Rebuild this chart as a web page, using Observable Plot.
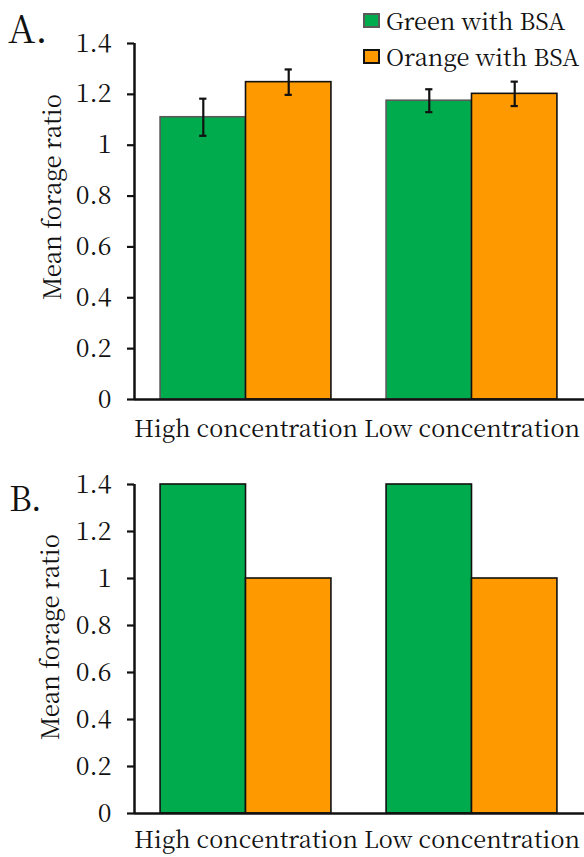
<!DOCTYPE html>
<html>
<head>
<meta charset="utf-8">
<script src="https://cdn.jsdelivr.net/npm/d3@7"></script>
<script src="https://cdn.jsdelivr.net/npm/@observablehq/plot@0.6"></script>
<style>
  html, body { margin: 0; padding: 0; background: #fff; }
  #root { position: relative; width: 584px; height: 857px; overflow: hidden; font-family: "Noto Serif CJK SC", "Liberation Serif", serif; color: #111; }
  .panel { position: absolute; left: 0; }
  .tag { position: absolute; font-size: 38px; line-height: 1; }
  .ylab { position: absolute; font-size: 24px; white-space: nowrap; transform: translate(-50%, -50%) rotate(-90deg); line-height: 1; }
  .legend { position: absolute; left: 363px; top: 2px; font-size: 23.6px; }
  .legend .row { display: flex; align-items: center; height: 36px; }
  .legend .sw { width: 13px; height: 11px; margin-right: 6px; border: 2px solid #000; }
</style>
</head>
<body>
<div id="root"></div>
<script>
// ---- data ----
const concentrations = ["High concentration", "Low concentration"];
const series = ["Green with BSA", "Orange with BSA"];
const colors = ["#00ab4e", "#fe9a00"];
const strokesA = ["#5a5a5a", "#111111"];
const strokesB = ["#111111", "#111111"];

const meanA_green = [1.11, 1.175];
const meanA_orange = [1.248, 1.202];
const errA_green = [0.073, 0.045];
const errA_orange = [0.05, 0.048];

const meanB_green = [1.4, 1.4];
const meanB_orange = [1.0, 1.0];

const yTicks = [0, 0.2, 0.4, 0.6, 0.8, 1, 1.2, 1.4];

// ---- layout (style) ----
const xDomain = [-0.4934, 1.4978];
const half = 0.378;       // half of group width in x units
const cap = 0.016;        // error-bar cap half width in x units
const FONT = "'Noto Serif CJK SC', 'Liberation Serif', serif";

function rows(greens, oranges, gErr, oErr) {
  const out = [];
  concentrations.forEach((c, g) => {
    [greens, oranges].forEach((vals, s) => {
      const x1 = g - half + s * half, x2 = g + s * half;
      const errs = s === 0 ? gErr : oErr;
      out.push({concentration: c, series: series[s], s, value: vals[g],
        err: errs ? errs[g] : null, x1, x2, xc: (x1 + x2) / 2});
    });
  });
  return out;
}

function panel(data, strokes, opts) {
  const marks = [
    Plot.rectY(data, {x1: "x1", x2: "x2", y1: 0, y2: "value",
      fill: d => colors[d.s], stroke: d => strokes[d.s], strokeWidth: 1.6}),
    Plot.axisY({ticks: yTicks, tickSize: 7, tickPadding: 16, tickFormat: d => String(d), strokeWidth: 2.2, label: null, fontSize: 25}),
    Plot.axisX({ticks: [0, 1], tickSize: 0, tickPadding: opts.xPad, tickFormat: i => concentrations[i], label: null, fontSize: 23.5}),
    Plot.ruleX([xDomain[0]], {strokeWidth: 2.5, stroke: "#111"}),
    Plot.ruleY([0], {strokeWidth: 2.5, stroke: "#111"})
  ];
  const withErr = data.filter(d => d.err != null);
  if (withErr.length) {
    marks.push(
      Plot.ruleX(withErr, {x: "xc", y1: d => d.value - d.err, y2: d => d.value + d.err, strokeWidth: 2.2, stroke: "#111"}),
      Plot.ruleY(withErr, {x1: d => d.xc - cap, x2: d => d.xc + cap, y: d => d.value + d.err, strokeWidth: 2.2, stroke: "#111"}),
      Plot.ruleY(withErr, {x1: d => d.xc - cap, x2: d => d.xc + cap, y: d => d.value - d.err, strokeWidth: 2.2, stroke: "#111"})
    );
  }
  return Plot.plot({
    width: 584,
    height: opts.height,
    marginLeft: 134,
    marginRight: 0,
    marginTop: opts.marginTop,
    marginBottom: opts.marginBottom,
    x: {domain: xDomain, axis: null, label: null},
    y: {domain: [0, 1.4], axis: null, label: null},
    style: {fontFamily: FONT, fontSize: "24px", color: "#111", background: "transparent", overflow: "visible"},
    marks
  });
}

const root = document.getElementById("root");

const a = panel(rows(meanA_green, meanA_orange, errA_green, errA_orange), strokesA,
  {height: 450, marginTop: 43, marginBottom: 51, xPad: 21});
a.classList.add("panel"); a.style.top = "0px";
root.appendChild(a);

const b = panel(rows(meanB_green, meanB_orange, null, null), strokesB,
  {height: 407, marginTop: 34, marginBottom: 44, xPad: 18});
b.classList.add("panel"); b.style.top = "450px";
root.appendChild(b);

function addText(cls, text, style) {
  const el = document.createElement("div");
  el.className = cls; el.textContent = text;
  Object.assign(el.style, style);
  root.appendChild(el);
}
addText("tag", "A.", {left: "8px", top: "8px"});
addText("tag", "B.", {left: "9px", top: "480px", fontSize: "34px"});
addText("ylab", "Mean forage ratio", {left: "51px", top: "197px"});
addText("ylab", "Mean forage ratio", {left: "49px", top: "637px"});

const lg = document.createElement("div");
lg.className = "legend";
series.forEach((name, i) => {
  const r = document.createElement("div"); r.className = "row";
  const sw = document.createElement("span"); sw.className = "sw";
  sw.style.background = colors[i]; sw.style.borderColor = strokesA[i];
  const t = document.createElement("span"); t.textContent = name;
  r.appendChild(sw); r.appendChild(t); lg.appendChild(r);
});
root.appendChild(lg);
</script>
</body>
</html>
